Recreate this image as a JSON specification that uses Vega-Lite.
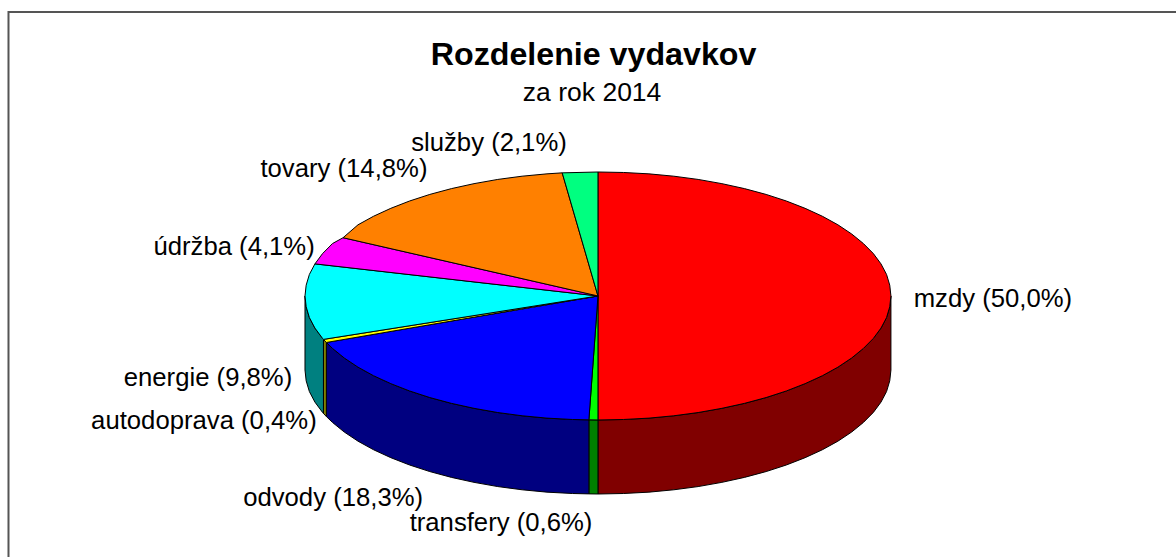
{"$schema":"https://vega.github.io/schema/vega-lite/v6.json","width":1176,"height":557,"padding":0,"autosize":{"type":"none"},"background":"white","config":{"view":{"stroke":null}},"encoding":{"x":{"field":"x","type":"quantitative","scale":{"domain":[-2.041,1.973],"nice":false,"zero":false},"axis":null},"y":{"field":"y","type":"quantitative","scale":{"domain":[-2.105,2.387],"nice":false,"zero":false},"axis":null}},"datasets":{"labels":[{"t":"mzdy (50,0%)","x":1.348,"y":-0.024},{"t":"služby (2,1%)","x":-0.372,"y":1.234},{"t":"tovary (14,8%)","x":-0.867,"y":1.024},{"t":"údržba (4,1%)","x":-1.242,"y":0.395},{"t":"energie (9,8%)","x":-1.331,"y":-0.661},{"t":"autodoprava (0,4%)","x":-1.345,"y":-1.008},{"t":"odvody (18,3%)","x":-0.904,"y":-1.629},{"t":"transfery (0,6%)","x":-0.331,"y":-1.831}],"heads":[{"t":"Rozdelenie vydavkov","x":-0.015,"y":1.94}],"subs":[{"t":"za rok 2014","x":-0.02,"y":1.635}],"frame":[{"o":1,"x":-2.012,"y":-2.105},{"o":2,"x":-2.012,"y":2.29},{"o":3,"x":1.973,"y":2.29}],"poly":[
{"s":"mzdy bok","o":1,"x":1,"y":0},{"s":"mzdy bok","o":1.5,"x":0.996,"y":-0.087},{"s":"mzdy bok","o":2,"x":0.985,"y":-0.174},{"s":"mzdy bok","o":2.5,"x":0.966,"y":-0.259},{"s":"mzdy bok","o":3,"x":0.94,"y":-0.342},{"s":"mzdy bok","o":3.5,"x":0.906,"y":-0.423},{"s":"mzdy bok","o":4,"x":0.866,"y":-0.5},{"s":"mzdy bok","o":4.5,"x":0.819,"y":-0.574},{"s":"mzdy bok","o":5,"x":0.766,"y":-0.643},{"s":"mzdy bok","o":5.5,"x":0.707,"y":-0.707},{"s":"mzdy bok","o":6,"x":0.643,"y":-0.766},{"s":"mzdy bok","o":6.5,"x":0.574,"y":-0.819},{"s":"mzdy bok","o":7,"x":0.5,"y":-0.866},{"s":"mzdy bok","o":7.5,"x":0.423,"y":-0.906},{"s":"mzdy bok","o":8,"x":0.342,"y":-0.94},{"s":"mzdy bok","o":8.5,"x":0.259,"y":-0.966},{"s":"mzdy bok","o":9,"x":0.174,"y":-0.985},{"s":"mzdy bok","o":9.5,"x":0.087,"y":-0.996},{"s":"mzdy bok","o":10,"x":0,"y":-1},{"s":"mzdy bok","o":11,"x":0,"y":-1.597},{"s":"mzdy bok","o":11.5,"x":0.087,"y":-1.593},{"s":"mzdy bok","o":12,"x":0.174,"y":-1.582},{"s":"mzdy bok","o":12.5,"x":0.259,"y":-1.563},{"s":"mzdy bok","o":13,"x":0.342,"y":-1.537},{"s":"mzdy bok","o":13.5,"x":0.423,"y":-1.503},{"s":"mzdy bok","o":14,"x":0.5,"y":-1.463},{"s":"mzdy bok","o":14.5,"x":0.574,"y":-1.416},{"s":"mzdy bok","o":15,"x":0.643,"y":-1.363},{"s":"mzdy bok","o":15.5,"x":0.707,"y":-1.304},{"s":"mzdy bok","o":16,"x":0.766,"y":-1.24},{"s":"mzdy bok","o":16.5,"x":0.819,"y":-1.171},{"s":"mzdy bok","o":17,"x":0.866,"y":-1.097},{"s":"mzdy bok","o":17.5,"x":0.906,"y":-1.02},{"s":"mzdy bok","o":18,"x":0.94,"y":-0.939},{"s":"mzdy bok","o":18.5,"x":0.966,"y":-0.856},{"s":"mzdy bok","o":19,"x":0.985,"y":-0.771},{"s":"mzdy bok","o":19.5,"x":0.996,"y":-0.684},{"s":"mzdy bok","o":20,"x":1,"y":-0.597},{"s":"mzdy bok","o":21,"x":1,"y":0},
{"s":"transfery bok","o":1,"x":0,"y":-1},{"s":"transfery bok","o":2,"x":-0.031,"y":-0.999},{"s":"transfery bok","o":3,"x":-0.031,"y":-1.596},{"s":"transfery bok","o":4,"x":0,"y":-1.597},{"s":"transfery bok","o":5,"x":0,"y":-1},
{"s":"odvody bok","o":1,"x":-0.031,"y":-0.999},{"s":"odvody bok","o":1.5,"x":-0.087,"y":-0.996},{"s":"odvody bok","o":2,"x":-0.174,"y":-0.985},{"s":"odvody bok","o":2.5,"x":-0.259,"y":-0.966},{"s":"odvody bok","o":3,"x":-0.342,"y":-0.94},{"s":"odvody bok","o":3.5,"x":-0.423,"y":-0.906},{"s":"odvody bok","o":4,"x":-0.5,"y":-0.866},{"s":"odvody bok","o":4.5,"x":-0.574,"y":-0.819},{"s":"odvody bok","o":5,"x":-0.643,"y":-0.766},{"s":"odvody bok","o":5.5,"x":-0.707,"y":-0.707},{"s":"odvody bok","o":6,"x":-0.766,"y":-0.643},{"s":"odvody bok","o":6.5,"x":-0.819,"y":-0.574},{"s":"odvody bok","o":7,"x":-0.866,"y":-0.5},{"s":"odvody bok","o":7.5,"x":-0.906,"y":-0.423},{"s":"odvody bok","o":8,"x":-0.927,"y":-0.375},{"s":"odvody bok","o":9,"x":-0.927,"y":-0.972},{"s":"odvody bok","o":9.5,"x":-0.906,"y":-1.02},{"s":"odvody bok","o":10,"x":-0.866,"y":-1.097},{"s":"odvody bok","o":10.5,"x":-0.819,"y":-1.171},{"s":"odvody bok","o":11,"x":-0.766,"y":-1.24},{"s":"odvody bok","o":11.5,"x":-0.707,"y":-1.304},{"s":"odvody bok","o":12,"x":-0.643,"y":-1.363},{"s":"odvody bok","o":12.5,"x":-0.574,"y":-1.416},{"s":"odvody bok","o":13,"x":-0.5,"y":-1.463},{"s":"odvody bok","o":13.5,"x":-0.423,"y":-1.503},{"s":"odvody bok","o":14,"x":-0.342,"y":-1.537},{"s":"odvody bok","o":14.5,"x":-0.259,"y":-1.563},{"s":"odvody bok","o":15,"x":-0.174,"y":-1.582},{"s":"odvody bok","o":15.5,"x":-0.087,"y":-1.593},{"s":"odvody bok","o":16,"x":-0.031,"y":-1.596},{"s":"odvody bok","o":17,"x":-0.031,"y":-0.999},
{"s":"autodoprava bok","o":1,"x":-0.927,"y":-0.375},{"s":"autodoprava bok","o":2,"x":-0.937,"y":-0.35},{"s":"autodoprava bok","o":3,"x":-0.937,"y":-0.947},{"s":"autodoprava bok","o":4,"x":-0.927,"y":-0.972},{"s":"autodoprava bok","o":5,"x":-0.927,"y":-0.375},
{"s":"energie bok","o":1,"x":-0.937,"y":-0.35},{"s":"energie bok","o":2,"x":-0.94,"y":-0.342},{"s":"energie bok","o":2.5,"x":-0.966,"y":-0.259},{"s":"energie bok","o":3,"x":-0.985,"y":-0.174},{"s":"energie bok","o":3.5,"x":-0.996,"y":-0.087},{"s":"energie bok","o":4,"x":-1,"y":0},{"s":"energie bok","o":5,"x":-1,"y":-0.597},{"s":"energie bok","o":5.5,"x":-0.996,"y":-0.684},{"s":"energie bok","o":6,"x":-0.985,"y":-0.771},{"s":"energie bok","o":6.5,"x":-0.966,"y":-0.856},{"s":"energie bok","o":7,"x":-0.94,"y":-0.939},{"s":"energie bok","o":8,"x":-0.937,"y":-0.947},{"s":"energie bok","o":9,"x":-0.937,"y":-0.35},
{"s":"mzdy","o":1,"x":0,"y":0},{"s":"mzdy","o":2,"x":0,"y":1},{"s":"mzdy","o":2.5,"x":0.087,"y":0.996},{"s":"mzdy","o":3,"x":0.174,"y":0.985},{"s":"mzdy","o":3.5,"x":0.259,"y":0.966},{"s":"mzdy","o":4,"x":0.342,"y":0.94},{"s":"mzdy","o":4.5,"x":0.423,"y":0.906},{"s":"mzdy","o":5,"x":0.5,"y":0.866},{"s":"mzdy","o":5.5,"x":0.574,"y":0.819},{"s":"mzdy","o":6,"x":0.643,"y":0.766},{"s":"mzdy","o":6.5,"x":0.707,"y":0.707},{"s":"mzdy","o":7,"x":0.766,"y":0.643},{"s":"mzdy","o":7.5,"x":0.819,"y":0.574},{"s":"mzdy","o":8,"x":0.866,"y":0.5},{"s":"mzdy","o":8.5,"x":0.906,"y":0.423},{"s":"mzdy","o":9,"x":0.94,"y":0.342},{"s":"mzdy","o":9.5,"x":0.966,"y":0.259},{"s":"mzdy","o":10,"x":0.985,"y":0.174},{"s":"mzdy","o":10.5,"x":0.996,"y":0.087},{"s":"mzdy","o":11,"x":1,"y":0},{"s":"mzdy","o":11.5,"x":0.996,"y":-0.087},{"s":"mzdy","o":12,"x":0.985,"y":-0.174},{"s":"mzdy","o":12.5,"x":0.966,"y":-0.259},{"s":"mzdy","o":13,"x":0.94,"y":-0.342},{"s":"mzdy","o":13.5,"x":0.906,"y":-0.423},{"s":"mzdy","o":14,"x":0.866,"y":-0.5},{"s":"mzdy","o":14.5,"x":0.819,"y":-0.574},{"s":"mzdy","o":15,"x":0.766,"y":-0.643},{"s":"mzdy","o":15.5,"x":0.707,"y":-0.707},{"s":"mzdy","o":16,"x":0.643,"y":-0.766},{"s":"mzdy","o":16.5,"x":0.574,"y":-0.819},{"s":"mzdy","o":17,"x":0.5,"y":-0.866},{"s":"mzdy","o":17.5,"x":0.423,"y":-0.906},{"s":"mzdy","o":18,"x":0.342,"y":-0.94},{"s":"mzdy","o":18.5,"x":0.259,"y":-0.966},{"s":"mzdy","o":19,"x":0.174,"y":-0.985},{"s":"mzdy","o":19.5,"x":0.087,"y":-0.996},{"s":"mzdy","o":20,"x":0,"y":-1},{"s":"mzdy","o":21,"x":0,"y":0},
{"s":"transfery","o":1,"x":0,"y":0},{"s":"transfery","o":2,"x":0,"y":-1},{"s":"transfery","o":3,"x":-0.031,"y":-0.999},{"s":"transfery","o":4,"x":0,"y":0},
{"s":"odvody","o":1,"x":0,"y":0},{"s":"odvody","o":2,"x":-0.031,"y":-0.999},{"s":"odvody","o":2.5,"x":-0.087,"y":-0.996},{"s":"odvody","o":3,"x":-0.174,"y":-0.985},{"s":"odvody","o":3.5,"x":-0.259,"y":-0.966},{"s":"odvody","o":4,"x":-0.342,"y":-0.94},{"s":"odvody","o":4.5,"x":-0.423,"y":-0.906},{"s":"odvody","o":5,"x":-0.5,"y":-0.866},{"s":"odvody","o":5.5,"x":-0.574,"y":-0.819},{"s":"odvody","o":6,"x":-0.643,"y":-0.766},{"s":"odvody","o":6.5,"x":-0.707,"y":-0.707},{"s":"odvody","o":7,"x":-0.766,"y":-0.643},{"s":"odvody","o":7.5,"x":-0.819,"y":-0.574},{"s":"odvody","o":8,"x":-0.866,"y":-0.5},{"s":"odvody","o":8.5,"x":-0.906,"y":-0.423},{"s":"odvody","o":9,"x":-0.927,"y":-0.375},{"s":"odvody","o":10,"x":0,"y":0},
{"s":"autodoprava","o":1,"x":0,"y":0},{"s":"autodoprava","o":2,"x":-0.927,"y":-0.375},{"s":"autodoprava","o":3,"x":-0.937,"y":-0.35},{"s":"autodoprava","o":4,"x":0,"y":0},
{"s":"energie","o":1,"x":0,"y":0},{"s":"energie","o":2,"x":-0.937,"y":-0.35},{"s":"energie","o":3,"x":-0.94,"y":-0.342},{"s":"energie","o":3.5,"x":-0.966,"y":-0.259},{"s":"energie","o":4,"x":-0.985,"y":-0.174},{"s":"energie","o":4.5,"x":-0.996,"y":-0.087},{"s":"energie","o":5,"x":-1,"y":0},{"s":"energie","o":5.5,"x":-0.996,"y":0.087},{"s":"energie","o":6,"x":-0.985,"y":0.174},{"s":"energie","o":7,"x":-0.966,"y":0.259},{"s":"energie","o":8,"x":0,"y":0},
{"s":"údržba","o":1,"x":0,"y":0},{"s":"údržba","o":2,"x":-0.966,"y":0.259},{"s":"údržba","o":3,"x":-0.94,"y":0.342},{"s":"údržba","o":3.5,"x":-0.906,"y":0.423},{"s":"údržba","o":4,"x":-0.87,"y":0.47},{"s":"údržba","o":5,"x":0,"y":0},
{"s":"tovary","o":1,"x":0,"y":0},{"s":"tovary","o":2,"x":-0.87,"y":0.47},{"s":"tovary","o":2.5,"x":-0.819,"y":0.574},{"s":"tovary","o":3,"x":-0.766,"y":0.643},{"s":"tovary","o":3.5,"x":-0.707,"y":0.707},{"s":"tovary","o":4,"x":-0.643,"y":0.766},{"s":"tovary","o":4.5,"x":-0.574,"y":0.819},{"s":"tovary","o":5,"x":-0.5,"y":0.866},{"s":"tovary","o":5.5,"x":-0.423,"y":0.906},{"s":"tovary","o":6,"x":-0.342,"y":0.94},{"s":"tovary","o":6.5,"x":-0.259,"y":0.966},{"s":"tovary","o":7,"x":-0.174,"y":0.985},{"s":"tovary","o":8,"x":-0.122,"y":0.993},{"s":"tovary","o":9,"x":0,"y":0},
{"s":"služby","o":1,"x":0,"y":0},{"s":"služby","o":2,"x":-0.122,"y":0.993},{"s":"služby","o":3,"x":0,"y":1},{"s":"služby","o":4,"x":0,"y":0}
]},"layer":[
{"data":{"name":"frame"},"mark":{"type":"line","stroke":"#555555","strokeWidth":2},"encoding":{"order":{"field":"o"}}},
{"data":{"name":"poly"},"mark":{"type":"line","stroke":"black","strokeWidth":1,"strokeJoin":"round"},"encoding":{"order":{"field":"o"},"detail":{"field":"s"},"fill":{"field":"s","type":"nominal","legend":null,"scale":{"domain":["mzdy bok","transfery bok","odvody bok","autodoprava bok","energie bok","mzdy","transfery","odvody","autodoprava","energie","údržba","tovary","služby"],"range":["#800000","#008000","#000080","#808000","#008080","#ff0000","#00ff00","#0000ff","#ffff00","#00ffff","#ff00ff","#ff8000","#00ff80"]}}}},
{"data":{"name":"labels"},"mark":{"type":"text","font":"Liberation Sans","fontSize":25.7,"color":"black"},"encoding":{"text":{"field":"t"}}},
{"data":{"name":"heads"},"mark":{"type":"text","font":"Liberation Sans","fontSize":32.2,"fontWeight":"bold","color":"black"},"encoding":{"text":{"field":"t"}}},
{"data":{"name":"subs"},"mark":{"type":"text","font":"Liberation Sans","fontSize":26.5,"color":"black"},"encoding":{"text":{"field":"t"}}}
]}
